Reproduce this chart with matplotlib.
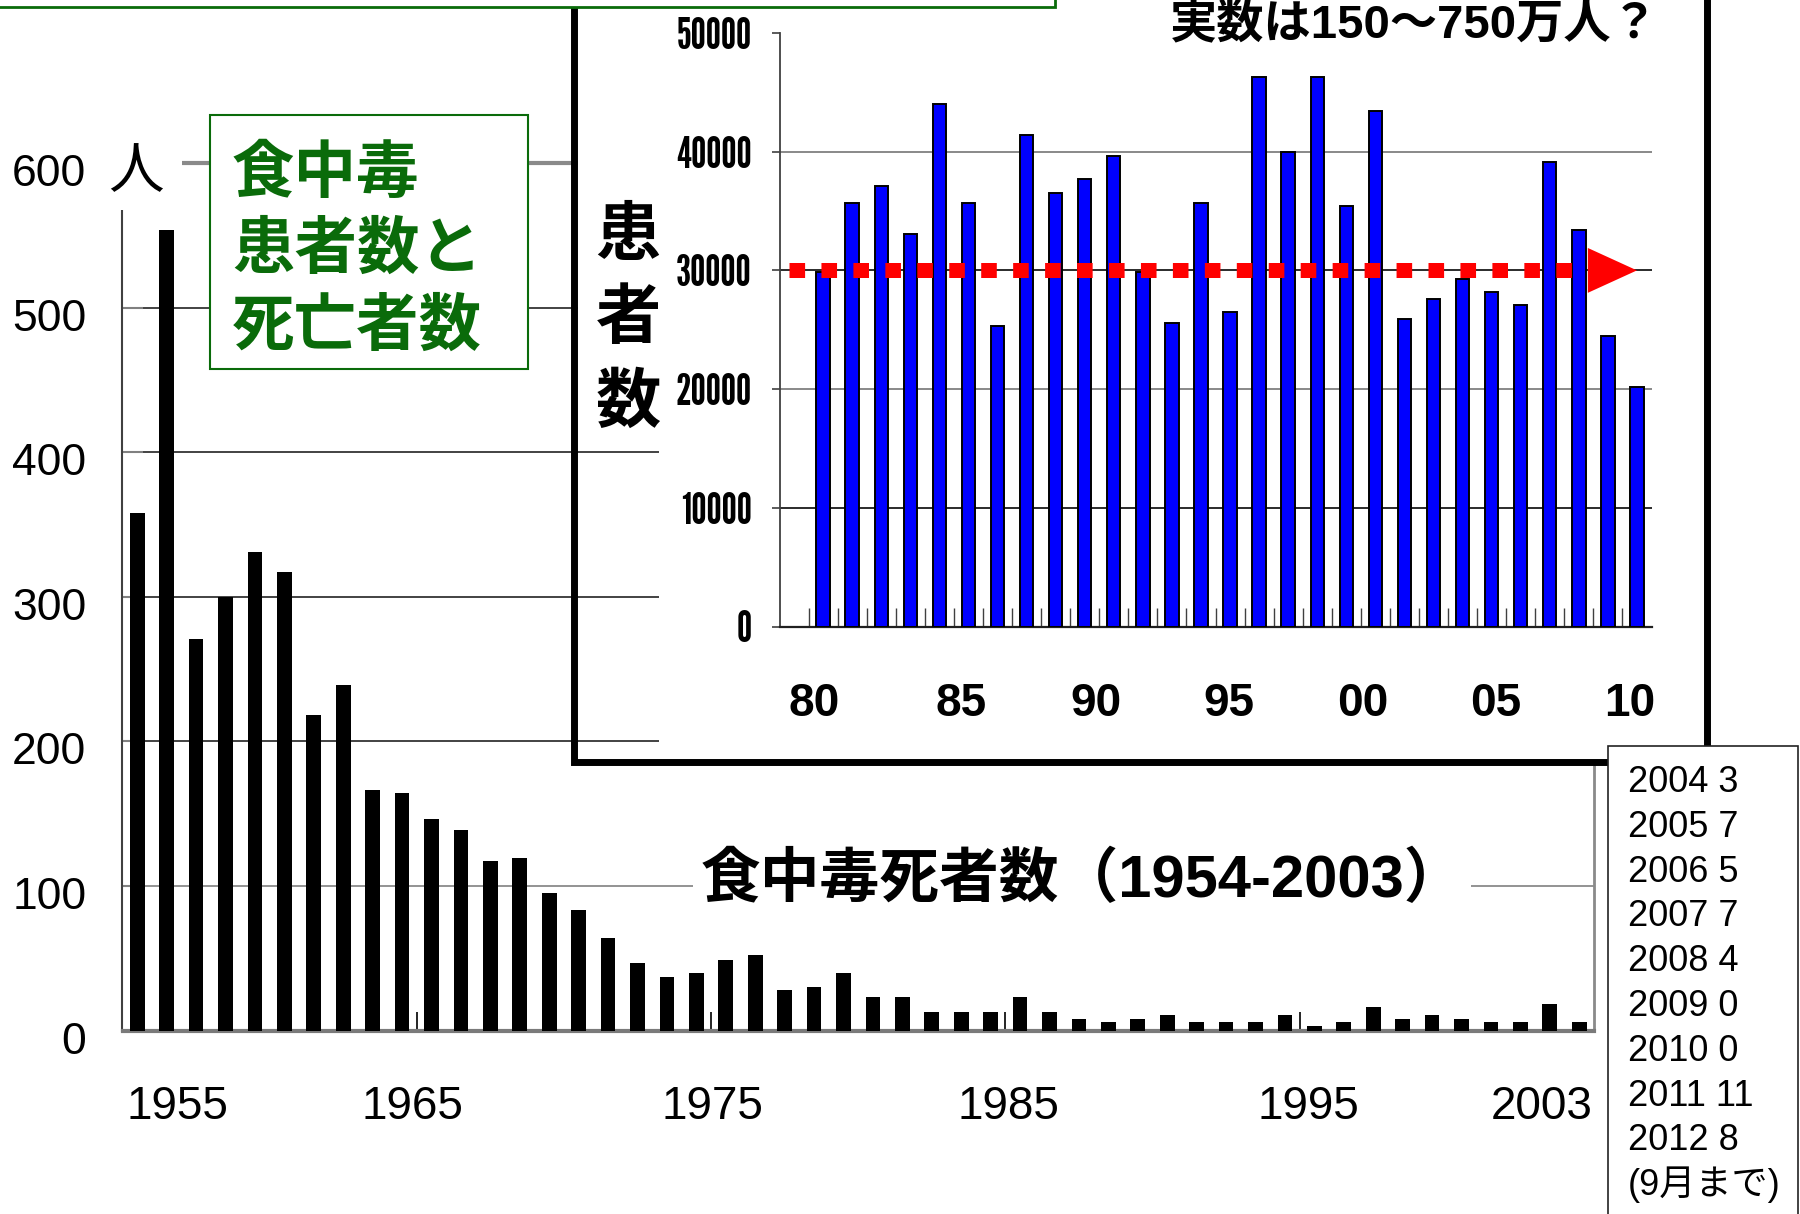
import matplotlib
matplotlib.use('Agg')
import matplotlib.pyplot as plt
from matplotlib.patches import Rectangle, Polygon
from matplotlib import font_manager as fm
from matplotlib.transforms import ScaledTranslation
import numpy as np

# ---------------- data ----------------
death_years = list(range(1954, 2004))
deaths = [358, 554, 271, 300, 331, 317, 218, 239, 166, 164,
          146, 139, 117, 119, 95, 83, 64, 47, 37, 40,
          49, 52, 28, 30, 40, 23, 23, 13, 13, 13,
          23, 13, 8, 6, 8, 11, 6, 6, 6, 11,
          3, 6, 16, 8, 11, 8, 6, 6, 18, 6]
main_yticks = [0, 100, 200, 300, 400, 500, 600]
main_tick_pos = [1955.37, 1963.36, 1973.53, 1983.62, 1993.8, 2001.71]
main_tick_labels = ['1955', '1965', '1975', '1985', '1995', '2003']
main_minor_ticks = [1963.5, 1973.5, 1983.5, 1993.5]

patient_years = list(range(1981, 2010))
patients = [29900, 35700, 37100, 33100, 44000, 35700, 25300, 41400, 36500, 37700,
            39600, 29900, 25600, 35700, 26500, 46300, 40000, 46300, 35400, 43400,
            25900, 27600, 29300, 28200, 27100, 39100, 33400, 24500, 20200]
inset_yticks = [0, 10000, 20000, 30000, 40000, 50000]
inset_tick_pos = [1980.70, 1985.74, 1990.38, 1994.96, 1999.57, 2004.15, 2008.75]
inset_tick_labels = ['80', '85', '90', '95', '00', '05', '10']
avg_patients = 30000

recent_years = [2004, 2005, 2006, 2007, 2008, 2009, 2010, 2011, 2012]
recent_deaths = [3, 7, 5, 7, 4, 0, 0, 11, 8]

# ---------------- fonts ----------------
names = {f.name for f in fm.fontManager.ttflist}
narrow_pref = ['League Gothic', 'Antonio', 'Pathway Gothic One', 'Barlow Condensed', 'Archivo Narrow']
NARROW = [n for n in narrow_pref if n in names][:1] + ['DejaVu Sans']
NARROW_SIZE = {'League Gothic': 31, 'Antonio': 27, 'Pathway Gothic One': 31}.get(NARROW[0], 27)
LAT = ['Liberation Sans', 'Noto Sans CJK JP', 'DejaVu Sans']
CJK = ['Noto Sans CJK JP', 'DejaVu Sans']
GREEN = '#0a6b0a'

W, H = 1800, 1214
fig = plt.figure(figsize=(18, 12.14), dpi=100)
fig.patch.set_facecolor('white')

# ---------------- main axes ----------------
L, R, B, T = 122.5, 1594, 1030.5, 163
ax = fig.add_axes([L / W, 1 - B / H, (R - L) / W, (B - T) / H], zorder=0)
ax.bar(death_years, deaths, width=0.5, color='black', zorder=3)
ax.set_xlim(1953.5, 2003.5)
ax.set_ylim(0, 600)
ax.set_yticks(main_yticks)
ax.set_yticklabels([str(v) for v in main_yticks], family=LAT, fontsize=32)
ax.yaxis.grid(True, color='#222222', lw=1.2)
ax.set_axisbelow(True)
for g, v in zip(ax.get_ygridlines(), main_yticks):
    if v == 100:
        g.set_color('#808080')
    if v in (0, 600):
        g.set_visible(False)
ax.tick_params(axis='y', direction='in', length=15, width=1.5, color='#808080', pad=26)
shift = ScaledTranslation(0, -0.07, fig.dpi_scale_trans)
for lab in ax.get_yticklabels():
    lab.set_transform(lab.get_transform() + shift)
ax.set_xticks(main_tick_pos)
ax.set_xticklabels(main_tick_labels, family=LAT, fontsize=33)
ax.tick_params(axis='x', which='major', length=0, pad=39)
ax.set_xticks(main_minor_ticks, minor=True)
ax.tick_params(axis='x', which='minor', direction='in', length=14, width=1.2, color='black')
ax.spines['left'].set_color('#404040'); ax.spines['left'].set_linewidth(1.5)
ax.spines['top'].set_color('#8a8a8a'); ax.spines['top'].set_linewidth(3)
ax.spines['right'].set_color('#8a8a8a'); ax.spines['right'].set_linewidth(2)
ax.spines['bottom'].set_color('#7a7a7a'); ax.spines['bottom'].set_linewidth(3)

# ---------------- overlay (pixel coordinates) ----------------
ov = fig.add_axes([0, 0, 1, 1], zorder=5)
ov.set_xlim(0, W); ov.set_ylim(H, 0)
ov.axis('off')
ov.patch.set_visible(False)

# white background of the inset chart
ov.add_patch(Rectangle((659, -30), 1706 - 659, 762 + 30, facecolor='white', edgecolor='none', zorder=1))
# thick black frame of the inset
ov.add_patch(Rectangle((574, -60), 1706.5 - 574, 761.5 + 60, fill=False, edgecolor='black',
                       lw=5.0, zorder=2, joinstyle='miter'))
# white area behind vertical label
ov.add_patch(Rectangle((578, 140), 82, 296, facecolor='white', edgecolor='none', zorder=3))
# white area behind 人
ov.add_patch(Rectangle((100, 126), 82, 84, facecolor='white', edgecolor='none', zorder=3))
# green title box
ov.add_patch(Rectangle((210, 115), 318, 254, facecolor='white', edgecolor=GREEN, lw=1.5, zorder=3))
# green box at top (mostly outside the picture)
ov.add_patch(Rectangle((-10, -120), 1065, 127, facecolor='white', edgecolor=GREEN, lw=2, zorder=4))
# list box
ov.add_patch(Rectangle((1608, 746), 190, 500, facecolor='white', edgecolor='#222222', lw=1.2, zorder=6))

ov.text(136, 172, '人', family=CJK, fontsize=40, ha='center', va='center', zorder=5)
for y, line in zip([173, 249, 326], ['食中毒', '患者数と', '死亡者数']):
    ov.text(232, y, line, family=CJK, fontsize=45, fontweight='bold', color=GREEN,
            ha='left', va='center', zorder=5)
for y, ch in zip([235, 318, 402], '患者数'):
    ov.text(628, y, ch, family=CJK, fontsize=47, fontweight='bold', color='black',
            ha='center', va='center', zorder=5)
ov.text(1414, 37, '実数は150～750万人？', family=LAT, fontsize=34, fontweight='bold',
        ha='center', va='baseline', zorder=5)
ov.text(1082, 880, '食中毒死者数（1954-2003）', family=LAT, fontsize=43, fontweight='bold',
        ha='center', va='center', zorder=5,
        bbox=dict(boxstyle='square,pad=0.12', facecolor='white', edgecolor='none'))
for i, (yr, d) in enumerate(zip(recent_years, recent_deaths)):
    ov.text(1628, 792 + 44.8 * i, f'{yr} {d}', family=LAT, fontsize=26,
            ha='left', va='baseline', zorder=7)
ov.text(1628, 792 + 44.8 * len(recent_years), '(9月まで)', family=LAT, fontsize=26,
        ha='left', va='baseline', zorder=7)

# ---------------- inset axes ----------------
iL, iR, iB, iT = 779.5, 1651.5, 626.5, 33
ia = fig.add_axes([iL / W, 1 - iB / H, (iR - iL) / W, (iB - iT) / H], zorder=6)
ia.patch.set_visible(False)
ia.bar(patient_years, patients, width=0.46, color='#0000ff', edgecolor='black', lw=1.4, zorder=3)
ia.set_xlim(1979.5, 2009.5)
ia.set_ylim(0, 50000)
ia.set_yticks(inset_yticks)
ia.set_yticklabels([str(v) for v in inset_yticks], family=NARROW, fontsize=NARROW_SIZE,
                   fontweight='bold')
ia.yaxis.grid(True, lw=1.3)
ia.set_axisbelow(True)
for g, v in zip(ia.get_ygridlines(), inset_yticks):
    g.set_color('#1a1a1a' if (v // 10000) % 2 == 1 else '#808080')
    if v in (0, 50000):
        g.set_visible(False)
ia.tick_params(axis='y', direction='out', length=6, width=1.2, color='#404040', pad=14)
ia.set_xticks(inset_tick_pos)
ia.set_xticklabels(inset_tick_labels, family=LAT, fontsize=33, fontweight='bold')
ia.tick_params(axis='x', which='major', length=0, pad=40)
ia.set_xticks(np.arange(1980.5, 2009.5, 1.0), minor=True)
ia.tick_params(axis='x', which='minor', direction='in', length=14, width=1.0, color='#404040')
for s in ('top', 'right'):
    ia.spines[s].set_visible(False)
ia.spines['left'].set_color('#404040'); ia.spines['left'].set_linewidth(1.3)
ia.spines['bottom'].set_color('#202020'); ia.spines['bottom'].set_linewidth(1.6)

ia.plot([1979.83, 2007.0], [avg_patients, avg_patients], color='#ff0000', lw=10.8,
        dashes=(1.04, 1.09), dash_capstyle='butt', zorder=4)
ia.add_patch(Polygon([[2007.31, avg_patients + 1890], [2007.31, avg_patients - 1890],
                      [2009.0, avg_patients]], closed=True, facecolor='#ff0000',
                     edgecolor='none', zorder=4, clip_on=False))

fig.savefig('out.png', dpi=100, facecolor='white')
